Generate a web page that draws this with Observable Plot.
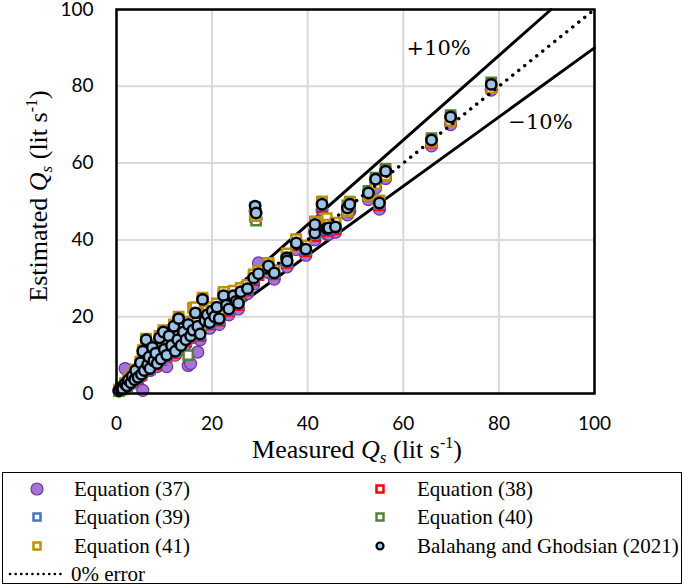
<!DOCTYPE html>
<html>
<head>
<meta charset="utf-8">
<script src="https://cdn.jsdelivr.net/npm/d3@7"></script>
<script src="https://cdn.jsdelivr.net/npm/@observablehq/plot@0.6"></script>
<style>
  body { margin: 0; background: white; }
  #wrap { position: relative; width: 685px; height: 588px; }
  #legend { position: absolute; left: 2px; top: 472px; width: 678px; height: 110px;
            border: 1.5px solid black; font-family: "Liberation Serif", "Times New Roman", serif; font-size: 21px; }
  .item { position: absolute; display: flex; align-items: center; height: 26px; white-space: nowrap; }
  .item svg { display: block; flex: none; }
</style>
</head>
<body>
<div id="wrap">
  <div id="chart"></div>
  <div id="legend"></div>
</div>
<script>
// Measured sediment discharge (lit/s)
const measured = [0.5,1.0,1.3,1.8,2.2,2.5,3.0,3.3,3.8,4.0,
  4.5,5.0,5.2,5.5,5.8,6.2,6.5,6.8,7.0,7.5,
  7.8,8.2,8.5,9.0,9.3,9.8,10.0,10.5,11.0,11.5,
  12.0,12.3,12.8,13.0,13.5,14.0,14.5,15.0,15.5,16.0,
  16.5,17.0,17.5,18.0,18.5,19.0,19.5,20.0,20.5,21.0,
  21.5,22.4,23.0,23.5,24.5,25.0,25.5,26.0,27.4,28.7,
  29.0,29.2,29.7,31.8,33.0,35.6,35.7,37.6,39.6,41.5,
  41.5,43.0,44.0,44.4,45.8,48.3,48.8,52.7,54.2,55.0,
  56.3,65.9,69.9,78.4];

// Estimated by each method
const eq37 = [0.6,1.2,1.0,6.5,1.8,3.0,2.5,4.0,3.2,5.5,
  3.8,7.2,4.5,0.8,5.5,12.5,6.8,8.5,6.0,11.0,
  7.8,9.5,7.0,13.0,8.2,14.5,10.5,7.0,13.5,11.5,
  16.0,10.0,12.8,17.5,11.5,14.5,12.8,7.3,7.8,15.0,
  19.0,10.8,14.0,22.5,17.5,19.0,17.0,20.0,18.5,21.0,
  18.0,24.0,21.5,20.5,24.0,22.5,22.0,25.0,26.0,28.5,
  47.5,45.5,34.0,31.5,29.8,33.8,33.0,37.5,36.0,40.0,
  42.5,47.8,41.5,41.5,42.0,46.5,47.5,50.5,53.5,48.0,
  56.0,64.5,70.0,79.0];
const eq38 = [0.7,1.3,1.1,2.3,1.9,3.2,2.6,4.2,3.4,5.8,
  4.0,7.6,4.8,10.5,5.8,13.5,7.2,9.0,6.3,11.5,
  8.2,10.0,7.5,14.0,8.7,15.5,11.0,9.6,14.5,12.0,
  17.0,10.6,13.5,19.0,12.0,15.5,13.6,17.0,14.5,16.0,
  20.5,17.0,15.0,24.0,18.5,20.0,18.0,21.0,19.5,22.0,
  19.0,25.0,22.5,21.5,25.0,23.5,23.0,26.0,26.8,29.5,
  48.0,46.3,30.8,32.8,31.0,34.8,34.0,38.7,37.0,41.0,
  43.3,48.5,42.4,42.5,42.8,47.6,48.6,51.5,55.0,49.0,
  57.2,65.3,71.3,79.8];
const eq39 = [0.8,1.4,1.2,2.4,2.0,3.3,2.7,4.3,3.5,5.9,
  4.1,7.8,4.9,10.8,5.9,13.8,7.4,9.3,6.4,11.8,
  8.4,10.3,7.7,14.3,8.9,15.8,11.3,9.8,14.8,12.3,
  17.3,10.8,13.8,19.3,12.3,15.8,13.8,17.6,14.8,16.3,
  20.8,17.3,15.3,24.3,18.8,20.3,18.3,21.3,19.8,22.3,
  19.3,25.3,22.8,21.8,25.3,23.8,23.3,26.3,27.1,29.9,
  48.5,46.8,31.0,33.0,31.2,35.1,34.3,39.0,37.4,41.6,
  43.8,49.1,42.8,42.9,43.2,48.0,49.0,52.0,55.5,49.4,
  57.6,65.8,71.8,80.2];
const eq40 = [0.6,1.6,1.4,2.2,2.3,3.1,3.0,4.0,3.9,5.2,
  4.5,7.0,5.3,10.0,6.4,13.0,8.0,8.8,7.0,11.0,
  9.0,9.8,8.3,13.5,9.6,15.0,12.0,10.6,14.0,13.0,
  16.5,11.6,14.5,18.5,13.0,16.8,14.6,10.0,15.6,17.0,
  20.0,18.0,16.0,23.5,19.5,21.0,19.0,22.0,20.5,23.0,
  20.0,26.0,23.5,22.5,26.0,24.5,24.0,27.0,27.8,30.5,
  46.0,45.0,31.8,34.0,32.0,35.8,35.2,39.8,38.2,42.5,
  44.5,50.0,43.6,43.8,44.0,49.0,50.0,52.8,56.2,50.2,
  58.5,66.5,72.5,81.0];
const eq41 = [1.0,1.8,1.5,2.8,2.5,3.8,3.3,4.8,4.2,6.3,
  4.8,8.3,5.6,11.3,6.7,14.3,8.2,10.0,7.2,12.5,
  9.3,11.0,8.5,15.0,10.0,16.5,12.3,11.0,15.6,13.5,
  18.0,12.0,14.8,20.0,13.5,17.0,15.0,18.8,16.0,22.3,
  22.5,18.5,16.8,25.0,20.0,21.5,19.5,22.5,21.0,23.5,
  20.5,26.5,24.0,23.0,26.8,25.0,24.5,27.5,28.3,31.0,
  47.0,46.2,32.0,34.0,32.2,36.5,35.5,40.2,38.5,43.0,
  44.8,50.0,45.7,44.0,44.5,47.5,49.8,51.5,54.5,50.2,
  56.8,65.5,71.0,79.5];
const balahang = [0.8,1.5,1.2,2.5,2.0,3.5,2.8,4.5,3.6,6.0,
  4.2,8.0,5.0,11.0,6.0,14.0,7.5,9.5,6.5,12.0,
  8.5,10.5,7.8,14.5,9.0,16.0,11.5,10.0,15.0,12.5,
  17.5,11.0,14.0,19.5,12.5,16.0,14.0,18.0,15.0,16.5,
  21.0,17.5,15.5,24.5,19.0,20.5,18.5,21.5,20.0,22.5,
  19.5,25.5,23.0,22.0,25.5,24.0,23.5,26.5,27.3,30.1,
  48.8,47.0,31.2,33.2,31.4,35.3,34.5,39.2,37.6,41.8,
  44.0,49.3,43.0,43.1,43.4,48.3,49.3,52.2,55.8,49.6,
  57.9,66.0,72.0,80.5];

const ticks = [0, 20, 40, 60, 80, 100];
const errorPcts = [10, -10];
const seriesNames = ["Equation (37)", "Equation (38)", "Equation (39)", "Equation (40)", "Equation (41)", "Balahang and Ghodsian (2021)"];
const bandLabels = ["+10%", "\u221210%"];

const squareSeries = [
  {data: eq38, color: "#ff0000"},
  {data: eq39, color: "#4472c4"},
  {data: eq40, color: "#548235"},
  {data: eq41, color: "#bf9000"}
];

// endpoints of the ±10% lines inside the 0–100 box
const bandLines = errorPcts.map(p => {
  const k = 1 + p / 100;
  const xe = Math.min(100, 100 / k);
  return [[0, 0], [xe, xe * k]];
});
const oneToOne = [[0, 0], [100, 100]];

const marks = [
  Plot.gridX(ticks, {stroke: "#d9d9d9", strokeOpacity: 1, strokeWidth: 2}),
  Plot.gridY(ticks, {stroke: "#d9d9d9", strokeOpacity: 1, strokeWidth: 2}),
  ...bandLines.map(l => Plot.line(l, {x: d => d[0], y: d => d[1], stroke: "black", strokeWidth: 3})),
  Plot.dot(measured, {x: d => d, y: (d, i) => eq37[i], r: 6, fill: "#a575d6", stroke: "#7030a0", strokeWidth: 1.2}),
  ...squareSeries.map(s => Plot.dot(measured, {x: d => d, y: (d, i) => s.data[i], symbol: "square", r: 5.2, fill: "white", stroke: s.color, strokeWidth: 2.5})),
  Plot.line(oneToOne, {x: d => d[0], y: d => d[1], stroke: "black", strokeWidth: 3.4, strokeDasharray: "0.1 7.6", strokeLinecap: "round"}),
  Plot.dot(measured, {x: d => d, y: (d, i) => balahang[i], r: 5.2, fill: "#9dc3e6", stroke: "black", strokeWidth: 2.5}),
  Plot.text([{x: 67.4, y: 90.0, t: bandLabels[0]}, {x: 88.7, y: 70.6, t: bandLabels[1]}],
    {x: "x", y: "y", text: "t", fontFamily: "DejaVu Serif", fontSize: 21, fill: "black", textAnchor: "middle"}),
  Plot.frame({stroke: "black", strokeWidth: 2.5})
];

const chart = Plot.plot({
  width: 685, height: 470,
  marginLeft: 116, marginRight: 91, marginTop: 9, marginBottom: 77,
  style: {fontFamily: "Lato, 'Open Sans', sans-serif", fontSize: "19px", color: "black", background: "white", overflow: "visible"},
  x: {domain: [0, 100], ticks, tickSize: 0, tickPadding: 23, label: null},
  y: {domain: [0, 100], ticks, tickSize: 0, tickPadding: 23, label: null},
  marks
});
document.getElementById("chart").appendChild(chart);

// axis titles with italic Q, subscript s, superscript -1
const svg = d3.select(chart);
function title(g, prefix) {
  const t = g.append("text").attr("text-anchor", "middle")
    .attr("font-family", "'Liberation Serif', 'Times New Roman', serif").attr("font-size", 26).attr("fill", "black");
  t.append("tspan").text(prefix + " ");
  t.append("tspan").attr("font-style", "italic").text("Q");
  t.append("tspan").attr("font-style", "italic").attr("font-size", 17).attr("dy", 5).text("s");
  t.append("tspan").attr("dy", -5).text(" (lit s");
  t.append("tspan").attr("font-size", 16).attr("dy", -10).text("-1");
  t.append("tspan").attr("dy", 10).text(")");
  return t;
}
title(svg.append("g").attr("transform", "translate(357,458)"), "Measured");
title(svg.append("g").attr("transform", "translate(47,196) rotate(-90)"), "Estimated");

// legend
const legend = d3.select("#legend");
const leg = [
  {name: seriesNames[0], left: 22, top: 3, kind: "circle", fill: "#a575d6", stroke: "#7030a0"},
  {name: seriesNames[1], left: 365, top: 3, kind: "square", stroke: "#ff0000"},
  {name: seriesNames[2], left: 22, top: 31, kind: "square", stroke: "#4472c4"},
  {name: seriesNames[3], left: 365, top: 31, kind: "square", stroke: "#548235"},
  {name: seriesNames[4], left: 22, top: 60, kind: "square", stroke: "#bf9000"},
  {name: seriesNames[5], left: 365, top: 60, kind: "bdot"},
  {name: "0% error", left: 4, top: 88, kind: "dots"}
];
leg.forEach(d => {
  const it = legend.append("div").attr("class", "item").style("left", d.left + "px").style("top", d.top + "px");
  const w = d.kind === "dots" ? 64 : 49;
  const s = it.append("svg").attr("width", w).attr("height", 26);
  if (d.kind === "circle") s.append("circle").attr("cx", 12).attr("cy", 13).attr("r", 6).attr("fill", d.fill).attr("stroke", d.stroke).attr("stroke-width", 1.2);
  if (d.kind === "square") s.append("rect").attr("x", 8.5).attr("y", 9.5).attr("width", 7).attr("height", 7).attr("fill", "white").attr("stroke", d.stroke).attr("stroke-width", 2.5);
  if (d.kind === "bdot") s.append("circle").attr("cx", 12).attr("cy", 13).attr("r", 3.5).attr("fill", "#9dc3e6").attr("stroke", "black").attr("stroke-width", 2.2);
  if (d.kind === "dots") s.append("line").attr("x1", 3).attr("x2", 58).attr("y1", 13).attr("y2", 13).attr("stroke", "black").attr("stroke-width", 2.6).attr("stroke-dasharray", "0.1 5.5").attr("stroke-linecap", "round");
  it.append("span").text(d.name);
});
</script>
</body>
</html>
